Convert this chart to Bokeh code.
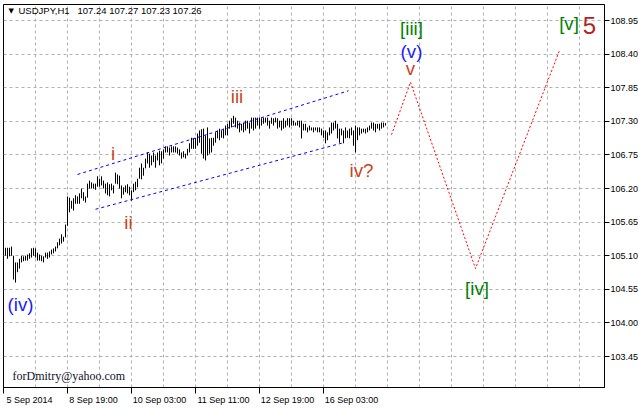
from bokeh.plotting import figure
from bokeh.models import (Range1d, FixedTicker, Label, NumeralTickFormatter,
                          ColumnDataSource, LinearAxis)
from bokeh.embed import file_html
from bokeh.resources import INLINE
from bokeh.core.properties import value

# ---------------- data ----------------
symbol = "USDJPY,H1"
last_quote = "107.24 107.27 107.23 107.26"
watermark = "forDmitry@yahoo.com"

# hourly bars (high / low), one per hour, starting 5 Sep 2014
high = [
    105.23, 105.23, 105.23, 105.25, 105.10, 104.99, 104.99, 105.05, 105.10, 105.09,
    105.10, 105.12, 105.14, 105.22, 105.23, 105.22, 105.15, 105.12, 105.10, 105.09,
    105.15, 105.15, 105.17, 105.20, 105.22, 105.25, 105.32, 105.38, 105.45, 105.41,
    105.61, 106.07, 106.05, 106.00, 106.04, 106.09, 106.07, 106.12, 106.20, 106.14,
    106.07, 106.28, 106.33, 106.30, 106.28, 106.28, 106.40, 106.36, 106.40, 106.33,
    106.28, 106.30, 106.27, 106.28, 106.25, 106.46, 106.43, 106.41, 106.25, 106.22,
    106.25, 106.27, 106.23, 106.17, 106.28, 106.31, 106.36, 106.54, 106.61, 106.54,
    106.69, 106.79, 106.77, 106.74, 106.79, 106.74, 106.79, 106.82, 106.81, 106.84,
    106.89, 106.89, 106.87, 106.89, 106.89, 106.89, 106.87, 106.84, 106.79, 106.81,
    106.77, 106.85, 106.94, 107.03, 107.02, 107.03, 107.10, 107.15, 107.17, 107.18,
    107.07, 107.20, 107.02, 107.03, 107.03, 107.12, 107.15, 107.18, 107.15, 107.18,
    107.23, 107.26, 107.31, 107.35, 107.39, 107.36, 107.31, 107.28, 107.26, 107.28,
    107.31, 107.31, 107.28, 107.36, 107.36, 107.36, 107.36, 107.36, 107.35, 107.36,
    107.36, 107.36, 107.31, 107.36, 107.35, 107.36, 107.35, 107.31, 107.31, 107.35,
    107.31, 107.35, 107.35, 107.35, 107.31, 107.28, 107.31, 107.31, 107.31, 107.26,
    107.26, 107.20, 107.23, 107.20, 107.20, 107.20, 107.20, 107.20, 107.18, 107.15,
    107.15, 107.12, 107.20, 107.28, 107.28, 107.31, 107.26, 107.18, 107.18, 107.15,
    107.20, 107.15, 107.18, 107.20, 107.15, 107.23, 107.20, 107.20, 107.18, 107.18,
    107.18, 107.20, 107.23, 107.28, 107.28, 107.26, 107.26, 107.26, 107.28, 107.28, 107.27,
]
low = [
    105.10, 105.05, 105.09, 105.10, 104.71, 104.66, 104.83, 104.89, 104.99, 105.01,
    105.02, 105.02, 105.05, 105.07, 105.10, 105.07, 105.02, 105.02, 105.01, 104.99,
    105.07, 105.05, 105.07, 105.12, 105.14, 105.17, 105.22, 105.27, 105.30, 105.33,
    105.40, 105.59, 105.81, 105.87, 105.84, 105.95, 105.95, 105.95, 106.04, 106.00,
    105.97, 106.05, 106.20, 106.20, 106.20, 106.18, 106.23, 106.23, 106.25, 106.20,
    106.12, 106.09, 106.07, 106.17, 106.12, 106.28, 106.27, 106.20, 106.04, 106.10,
    106.14, 106.12, 106.09, 106.00, 106.14, 106.17, 106.22, 106.36, 106.35, 106.41,
    106.53, 106.61, 106.54, 106.58, 106.63, 106.54, 106.66, 106.58, 106.61, 106.69,
    106.79, 106.79, 106.74, 106.79, 106.79, 106.79, 106.77, 106.74, 106.69, 106.71,
    106.69, 106.74, 106.79, 106.85, 106.85, 106.85, 106.90, 106.95, 106.77, 106.69,
    106.66, 106.74, 106.77, 106.79, 106.90, 106.95, 107.02, 106.99, 107.03, 107.02,
    107.07, 107.07, 107.18, 107.20, 107.26, 107.20, 107.18, 107.12, 107.15, 107.12,
    107.15, 107.18, 107.10, 107.18, 107.15, 107.18, 107.23, 107.18, 107.23, 107.26,
    107.28, 107.23, 107.18, 107.26, 107.23, 107.28, 107.18, 107.20, 107.15, 107.18,
    107.20, 107.23, 107.20, 107.23, 107.23, 107.23, 107.23, 107.20, 107.02, 107.15,
    107.15, 107.12, 107.15, 107.15, 107.12, 107.15, 107.12, 107.12, 107.07, 107.03,
    106.94, 106.99, 107.07, 107.10, 107.15, 107.18, 107.02, 106.95, 107.07, 106.94,
    107.02, 107.03, 107.02, 107.07, 106.90, 106.79, 106.99, 107.07, 107.10, 107.12,
    107.10, 107.12, 107.15, 107.18, 107.15, 107.12, 107.18, 107.15, 107.18, 107.20, 107.23,
]

time_labels = ["5 Sep 2014", "8 Sep 19:00", "10 Sep 03:00", "11 Sep 11:00", "12 Sep 19:00", "16 Sep 03:00"]
time_label_bars = [-1, 31, 63, 95, 127, 159]
price_ticks = [108.95, 108.40, 107.85, 107.30, 106.75, 106.20, 105.65, 105.10, 104.55, 104.00, 103.45]

channel_upper_bars = [36, 171.5]
channel_upper_prices = [106.43, 107.80]
channel_lower_bars = [45, 169]
channel_lower_prices = [105.86, 106.95]

projection_bars = [193, 202.5, 235, 277]
projection_prices = [107.08, 107.94, 104.89, 108.46]

wave_text = ["(iv)", "i", "ii", "iii", "iv?", "[iii]", "(v)", "v", "[iv]", "[v]"]
wave_bar = [7.5, 53.75, 61.5, 115.75, 178, 203, 203, 202.5, 235.75, 281.75]
wave_price = [104.30, 106.77, 105.64, 107.70, 106.49, 108.82, 108.44, 108.16, 104.56, 108.90]
wave_kind = ["minor", "sub", "sub", "sub", "sub", "inter", "minor", "sub", "inter", "inter"]

big_text = ["5"]
big_bar = [292]
big_price = [108.87]

# ---------------- styling ----------------
kind_color = {"minor": "#1a1aff", "sub": "#c8441e", "inter": "#008000"}
FONT = "Liberation Sans"
AXIS_FONT_PX = 9
PX_PER_BAR = 2
FRAME_W, FRAME_H = 601, 383

p = figure(frame_width=FRAME_W, frame_height=FRAME_H,
           x_range=Range1d(-1.0, -1.0 + FRAME_W / PX_PER_BAR), y_range=Range1d(102.943, 109.212),
           y_axis_location="right", toolbar_location=None, output_backend="svg",
           min_border_left=3, min_border_top=4, min_border_right=34, min_border_bottom=4)
p.background_fill_color = "white"
p.border_fill_color = "white"
p.outline_line_color = "black"
p.outline_line_width = 1

# right price axis
p.yaxis.ticker = FixedTicker(ticks=price_ticks)
p.yaxis.formatter = NumeralTickFormatter(format="0.00")
p.yaxis.major_tick_out = 5
p.yaxis.major_tick_in = 0
p.yaxis.minor_tick_line_color = None
p.yaxis.major_label_standoff = 1
p.yaxis.major_label_text_font = FONT
p.yaxis.major_label_text_font_size = f"{AXIS_FONT_PX}px"
p.yaxis.major_label_text_color = "black"
p.yaxis.axis_line_color = "black"
p.yaxis.major_tick_line_color = "black"

# bottom time axis: tick marks only
xa = p.xaxis[0]
xa.ticker = FixedTicker(ticks=time_label_bars)
xa.major_label_overrides = {t: "" for t in time_label_bars}
xa.major_label_text_font_size = "1px"
xa.major_label_standoff = 0
xa.major_tick_out = 6
xa.major_tick_in = 0
xa.minor_tick_line_color = None
xa.axis_line_color = "black"
xa.major_tick_line_color = "black"

# second bottom axis carrying the time labels, left-aligned to their ticks
char_em = {d: 0.556 for d in "0123456789"}
char_em.update({" ": 0.278, ":": 0.278, "S": 0.667, "e": 0.556, "p": 0.556})
def label_center(tick, text):
    w = sum(char_em.get(ch, 0.556) for ch in text) * AXIS_FONT_PX
    return int(round(tick + (2 + w / 2) / PX_PER_BAR))
centers = [label_center(t, s) for t, s in zip(time_label_bars, time_labels)]
la = LinearAxis(ticker=FixedTicker(ticks=centers),
                major_label_overrides={c: s for c, s in zip(centers, time_labels)})
la.axis_line_color = None
la.major_tick_line_color = None
la.minor_tick_line_color = None
la.major_tick_out = 0
la.major_tick_in = 0
la.major_label_standoff = 1
la.major_label_text_font = FONT
la.major_label_text_font_size = f"{AXIS_FONT_PX}px"
la.major_label_text_color = "black"
p.add_layout(la, "below")

# grid
grid_step = (time_label_bars[1] - time_label_bars[0]) // 2
p.xgrid.ticker = FixedTicker(ticks=list(range(time_label_bars[0] + grid_step, 300, grid_step)))
p.ygrid.ticker = FixedTicker(ticks=price_ticks)
for g in (p.xgrid, p.ygrid):
    g.grid_line_color = "#b0b0b0"
    g.grid_line_dash = "3 3"
    g.grid_line_width = 1

# bars
src = ColumnDataSource(dict(i=list(range(len(high))), high=high, low=low))
p.segment(x0="i", y0="low", x1="i", y1="high", source=src, line_color="black", line_width=1)

# channel
p.line(channel_upper_bars, channel_upper_prices, line_color="#0000ff", line_dash="3 3", line_width=1)
p.line(channel_lower_bars, channel_lower_prices, line_color="#0000ff", line_dash="3 3", line_width=1)

# projection
p.line(projection_bars, projection_prices, line_color="#ff0000", line_dash="2 2", line_width=1)

# wave labels
wsrc = ColumnDataSource(dict(x=wave_bar, y=wave_price, t=wave_text,
                             c=[kind_color[k] for k in wave_kind]))
p.text(x="x", y="y", text="t", text_color="c", source=wsrc,
       text_font=value(FONT), text_font_size="18.67px",
       text_align="center", text_baseline="alphabetic")
p.text(x=big_bar, y=big_price, text=big_text, text_color="#b22222",
       text_font=value(FONT), text_font_size="24px",
       text_align="center", text_baseline="alphabetic")

# header
p.add_layout(Label(x=5, y=FRAME_H - 6, x_units="screen", y_units="screen", text="\u25bc",
                   text_font="DejaVu Sans", text_font_size="7px", text_color="black",
                   text_align="left", text_baseline="middle"))
p.add_layout(Label(x=15, y=FRAME_H - 6, x_units="screen", y_units="screen", text=symbol,
                   text_font=FONT, text_font_size="9.5px", text_color="black",
                   text_align="left", text_baseline="middle"))
p.add_layout(Label(x=74, y=FRAME_H - 6, x_units="screen", y_units="screen", text=last_quote,
                   text_font=FONT, text_font_size="9.5px", text_color="black",
                   text_align="left", text_baseline="middle"))

# watermark
p.add_layout(Label(x=9, y=12, x_units="screen", y_units="screen", text=watermark,
                   text_font="Liberation Serif", text_font_size="12px", text_color="#101028",
                   text_align="left", text_baseline="alphabetic"))

open("out.html", "w").write(file_html(p, INLINE))
